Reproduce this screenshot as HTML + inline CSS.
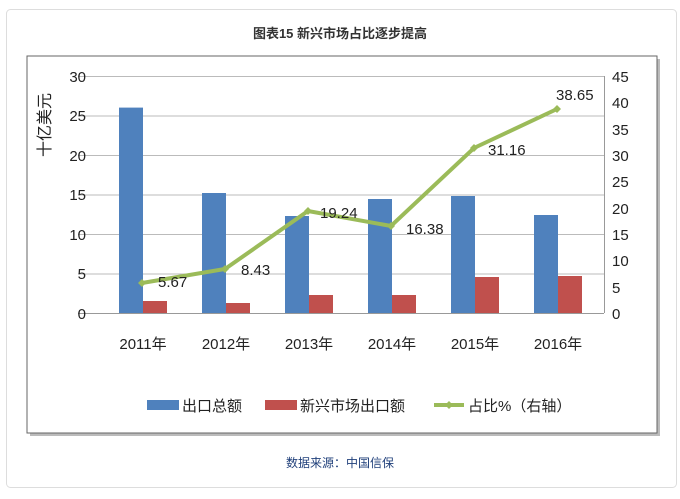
<!DOCTYPE html><html><head><meta charset="utf-8"><style>
body{margin:0;background:#fff;width:680px;height:494px;overflow:hidden;font-family:"Liberation Sans","Noto Sans CJK SC",sans-serif}
</style></head><body>
<svg width="680" height="494" xmlns="http://www.w3.org/2000/svg" font-family="Liberation Sans, Noto Sans CJK SC, sans-serif">
<rect x="6.5" y="9.5" width="670" height="478" rx="4" fill="#fff" stroke="#ddd"/>
<text x="340" y="38" text-anchor="middle" font-size="13" font-weight="bold" fill="#333">图表15  新兴市场占比逐步提高</text>
<rect x="30" y="59" width="630" height="377" fill="#777" opacity="0.5"/>
<rect x="27" y="56" width="630" height="377" fill="#fff" stroke="#666"/>
<g stroke="#bbb" stroke-width="1">
<line x1="78" y1="76.5" x2="604" y2="76.5"/><line x1="78" y1="116" x2="604" y2="116"/><line x1="78" y1="155.5" x2="604" y2="155.5"/><line x1="78" y1="195" x2="604" y2="195"/><line x1="78" y1="234.5" x2="604" y2="234.5"/><line x1="78" y1="274" x2="604" y2="274"/>
</g>
<line x1="78" y1="313.5" x2="604" y2="313.5" stroke="#999"/>
<line x1="604.5" y1="76" x2="604.5" y2="313" stroke="#999"/>
<g font-size="15" fill="#222" text-anchor="end">
<text x="86" y="82">30</text><text x="86" y="121">25</text><text x="86" y="161">20</text><text x="86" y="200">15</text><text x="86" y="240">10</text><text x="86" y="279">5</text><text x="86" y="319">0</text>
</g>
<g font-size="15" fill="#222">
<text x="612" y="82">45</text><text x="612" y="108">40</text><text x="612" y="135">35</text><text x="612" y="161">30</text><text x="612" y="187">25</text><text x="612" y="214">20</text><text x="612" y="240">15</text><text x="612" y="266">10</text><text x="612" y="293">5</text><text x="612" y="319">0</text>
</g>
<text transform="translate(50,125) rotate(-90)" text-anchor="middle" font-size="16" fill="#222">十亿美元</text>
<g fill="#4f81bd">
<rect x="119" y="107.6" width="24" height="205.4"/><rect x="202" y="193" width="24" height="120"/><rect x="285" y="216" width="24" height="97"/><rect x="368" y="199" width="24" height="114"/><rect x="451" y="196" width="24" height="117"/><rect x="534" y="215" width="24" height="98"/>
</g>
<g fill="#c0504d">
<rect x="143" y="301" width="24" height="12"/><rect x="226" y="303" width="24" height="10"/><rect x="309" y="295" width="24" height="18"/><rect x="392" y="295" width="24" height="18"/><rect x="475" y="277" width="24" height="36"/><rect x="558" y="276" width="24" height="37"/>
</g>
<polyline points="142,283 225,269 308,211 391,226 474,148 557,109" fill="none" stroke="#9bbb59" stroke-width="4"/>
<g fill="#9bbb59"><path d="M142,279l4,4l-4,4l-4,-4z"/><path d="M225,265l4,4l-4,4l-4,-4z"/><path d="M308,207l4,4l-4,4l-4,-4z"/><path d="M391,222l4,4l-4,4l-4,-4z"/><path d="M474,144l4,4l-4,4l-4,-4z"/><path d="M557,105l4,4l-4,4l-4,-4z"/></g>
<g font-size="15" fill="#222">
<text x="158" y="287">5.67</text><text x="241" y="275">8.43</text><text x="320" y="218">19.24</text><text x="406" y="234">16.38</text><text x="488" y="155">31.16</text><text x="556" y="100">38.65</text>
</g>
<g font-size="15" fill="#222" text-anchor="middle">
<text x="143" y="349">2011年</text><text x="226" y="349">2012年</text><text x="309" y="349">2013年</text><text x="392" y="349">2014年</text><text x="475" y="349">2015年</text><text x="558" y="349">2016年</text>
</g>
<rect x="147" y="400" width="32" height="10" fill="#4f81bd"/>
<text x="182" y="411" font-size="15" fill="#222">出口总额</text>
<rect x="265" y="400" width="32" height="10" fill="#c0504d"/>
<text x="300" y="411" font-size="15" fill="#222">新兴市场出口额</text>
<line x1="434" y1="405" x2="464" y2="405" stroke="#9bbb59" stroke-width="4"/>
<path d="M449,401l4,4l-4,4l-4,-4z" fill="#9bbb59"/>
<text x="468" y="411" font-size="15" fill="#222">占比%（右轴）</text>
<text x="340" y="467" text-anchor="middle" font-size="12" fill="#1f3f7a">数据来源：中国信保</text>
</svg>
</body></html>
